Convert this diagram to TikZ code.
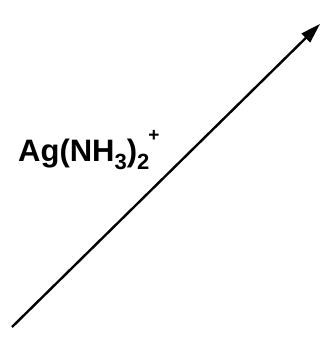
\documentclass[tikz,border=0pt]{standalone}
\usepackage{fontspec}
\setmainfont{Liberation Sans}
\usetikzlibrary{arrows.meta}
\newcommand{\subd}[1]{\raisebox{-8pt}{\fontsize{22}{26}\selectfont\bfseries #1}}
\newcommand{\supc}[1]{\raisebox{20pt}{\fontsize{19}{20}\selectfont\bfseries #1}}
\tikzset{
  rxn/.style={line width=2.4pt, -{Triangle[length=20pt,width=12pt]}},
  lbl/.style={font=\fontsize{31}{34}\selectfont\bfseries, inner sep=0pt, anchor=base west}
}
\begin{document}
\begin{tikzpicture}[x=1pt,y=-1pt]
\useasboundingbox (0,0) rectangle (328,339);
\coordinate (s) at (12,327);
\coordinate (e) at (320,24);
\draw[rxn] (s) -- (e);
\node[lbl] (t) at (18,161) {Ag(NH\subd{3})\subd{2}\kern-1pt\supc{+}};
\end{tikzpicture}
\end{document}
